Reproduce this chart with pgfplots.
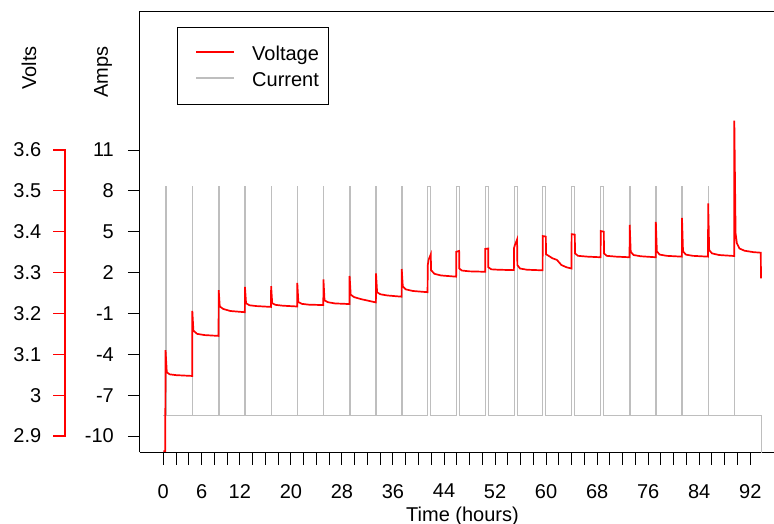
\documentclass[border=0pt]{standalone}
\usepackage{fontspec}
\setmainfont{Liberation Sans}
\usepackage{pgfplots}
\usepackage{pgfplotstable}
\pgfplotsset{compat=1.18}
\definecolor{curgrey}{RGB}{190,190,190}
\definecolor{vred}{RGB}{255,0,0}

\pgfplotstableread{
t V
0 2.863
0.30 2.863
0.35 3.110
0.55 3.056
1.0 3.051
2.0 3.049
4.53 3.047
4.55 3.206
4.72 3.158
5.3 3.150
6.5 3.147
8.66 3.145
8.68 3.257
8.85 3.217
9.4 3.211
10.5 3.206
12.78 3.203
12.80 3.265
12.97 3.225
13.5 3.220
14.6 3.218
16.88 3.216
16.90 3.267
17.07 3.225
17.6 3.221
18.7 3.219
20.98 3.217
21.00 3.275
21.17 3.228
21.7 3.2235
22.8 3.2215
25.08 3.2205
25.10 3.2835
25.27 3.232
25.8 3.2275
26.9 3.2245
29.18 3.223
29.20 3.2916
29.37 3.246
29.9 3.240
31.0 3.235
33.32 3.227
33.34 3.298
33.51 3.252
34.0 3.247
35.1 3.244
37.35 3.241
37.37 3.3087
37.54 3.266
38.0 3.259
39.1 3.255
41.42 3.252
41.45 3.318
41.6 3.332
41.93 3.345
41.96 3.306
42.5 3.297
43.5 3.293
45.90 3.290
45.92 3.351
46.37 3.353
46.39 3.310
46.8 3.305
48.0 3.303
50.45 3.302
50.47 3.358
50.92 3.359
50.94 3.313
51.4 3.308
52.5 3.307
54.95 3.306
54.97 3.360
55.1 3.367
55.45 3.381
55.50 3.3185
55.9 3.310
57.0 3.307
59.45 3.3055
59.47 3.3895
59.96 3.388
59.98 3.345
60.6 3.339
61.0 3.335
61.7 3.331
62.4 3.3185
63.2 3.313
63.98 3.310
64.00 3.394
64.50 3.393
64.53 3.347
65.0 3.341
66.5 3.339
68.54 3.3375
68.56 3.4017
69.05 3.400
69.07 3.347
69.5 3.341
71.0 3.339
73.08 3.3375
73.10 3.417
73.26 3.351
73.7 3.343
74.8 3.340
77.18 3.3375
77.20 3.4238
77.36 3.352
77.8 3.344
78.9 3.341
81.28 3.339
81.30 3.4336
81.46 3.352
81.9 3.344
83.0 3.341
85.38 3.339
85.40 3.4695
85.56 3.355
86.0 3.347
87.1 3.343
89.48 3.3406
89.50 3.6717
89.70 3.396
89.90 3.372
90.3 3.359
91.1 3.3535
92.5 3.350
93.65 3.3487
93.68 3.286
}\voltdata

\pgfplotstableread{
t I
0 -8.5
0.42 -8.5
0.42 8.3
0.48 8.3
0.48 -8.5
4.55 -8.5
4.55 8.3
4.61 8.3
4.61 -8.5
8.68 -8.5
8.68 8.3
8.74 8.3
8.74 -8.5
12.80 -8.5
12.80 8.3
12.86 8.3
12.86 -8.5
16.90 -8.5
16.90 8.3
16.96 8.3
16.96 -8.5
21.00 -8.5
21.00 8.3
21.06 8.3
21.06 -8.5
25.10 -8.5
25.10 8.3
25.16 8.3
25.16 -8.5
29.20 -8.5
29.20 8.3
29.26 8.3
29.26 -8.5
33.34 -8.5
33.34 8.3
33.40 8.3
33.40 -8.5
37.37 -8.5
37.37 8.3
37.43 8.3
37.43 -8.5
41.46 -8.5
41.46 8.3
41.90 8.3
41.90 -8.5
45.94 -8.5
45.94 8.3
46.38 8.3
46.38 -8.5
50.49 -8.5
50.49 8.3
50.93 8.3
50.93 -8.5
54.99 -8.5
54.99 8.3
55.47 8.3
55.47 -8.5
59.49 -8.5
59.49 8.3
59.95 8.3
59.95 -8.5
64.02 -8.5
64.02 8.3
64.48 8.3
64.48 -8.5
68.58 -8.5
68.58 8.3
69.04 8.3
69.04 -8.5
73.10 -8.5
73.10 8.3
73.16 8.3
73.16 -8.5
77.20 -8.5
77.20 8.3
77.26 8.3
77.26 -8.5
81.30 -8.5
81.30 8.3
81.36 8.3
81.36 -8.5
85.40 -8.5
85.40 8.3
85.46 8.3
85.46 -8.5
89.50 -8.5
89.50 8.3
89.56 8.3
89.56 -8.5
93.80 -8.5
93.80 -20
}\currdata

\begin{document}
\fontsize{20bp}{24bp}\selectfont
\begin{tikzpicture}
\pgfplotsset{
  common/.style={scale only axis, width=634bp, height=441bp,
    at={(0bp,0bp)}, anchor=south west, xmin=-3.652, xmax=95.72},
}
% Current (amps) axis with the box and x axis
\begin{axis}[common, ymin=-11.21, ymax=21.17,
  axis x line*=box, axis y line*=left,
  axis line style={-, line width=1bp, black},
  xtick={0,2,...,92},
  xticklabels={0,,,6,,,12,,,,20,,,,28,,,,36,,,,44,,,,52,,,,60,,,,68,,,,76,,,,84,,,,92},
  ytick={-10,-7,-4,-1,2,5,8,11},
  yticklabels={-10,-7,-4,-1,2,5,8,11},
  xtick pos=left, ytick pos=left,
  tick align=outside, major tick length=12bp,
  tick style={line width=1bp, black},
  xticklabel style={anchor=north, inner sep=0pt, yshift=-19.5bp},
  yticklabel style={anchor=east, inner sep=0pt, xshift=-14bp},
]
\addplot[curgrey, line width=1.1bp] table[x=t, y=I] {\currdata};
\end{axis}
% Voltage axis (hidden), legend
\begin{axis}[common, ymin=2.85967, ymax=3.93900, hide axis,
  legend style={at={(axis description cs:0.05836,0.96485)}, anchor=north west,
    draw=black, line width=1bp, fill=white,
    inner xsep=10bp, inner ysep=15bp, row sep=5bp,
    nodes={inner sep=0pt},
    /tikz/every odd column/.append style={column sep=17bp}},
  legend cell align=left,
  legend image code/.code={\draw[#1] (0bp,1bp) -- (38bp,1bp); \path (-8bp,0bp) (38bp,7bp);},
]
\addplot[vred, line width=1.7bp] table[x=t, y=V] {\voltdata};
\addlegendentry{\smash{Voltage}\rule[-2bp]{0pt}{20bp}}
\addlegendimage{curgrey, line width=1.1bp}
\addlegendentry{\smash{Current}\rule[-2bp]{0pt}{20bp}}
\end{axis}
% Volts scale (red)
\begin{axis}[scale only axis, width=10bp, height=286bp,
  at={(-74.5bp,16.5bp)}, anchor=south west,
  xmin=0, xmax=1, ymin=2.9, ymax=3.6,
  axis x line=none, axis y line*=left,
  y axis line style={draw=none},
  ytick={2.9,3,3.1,3.2,3.3,3.4,3.5,3.6},
  yticklabels={2.9,3,3.1,3.2,3.3,3.4,3.5,3.6},
  ytick pos=left, tick align=outside, major tick length=12bp,
  ytick style={draw=vred, line width=1.1bp},
  yticklabel style={anchor=east, inner sep=0pt, black, xshift=-12bp},
]
\end{axis}
\draw[vred, line width=2bp] (-74.5bp,15.95bp) -- (-74.5bp,303.05bp);
\node[rotate=90] at (-111bp,384.5bp) {Volts};
\node[rotate=90] at (-37bp,380.5bp) {Amps};
\node[anchor=base] at (322.5bp,-68.5bp) {Time (hours)};
\pgfresetboundingbox
\useasboundingbox (-140bp,-71.5bp) rectangle (634bp,452.5bp);
\end{tikzpicture}
\end{document}
